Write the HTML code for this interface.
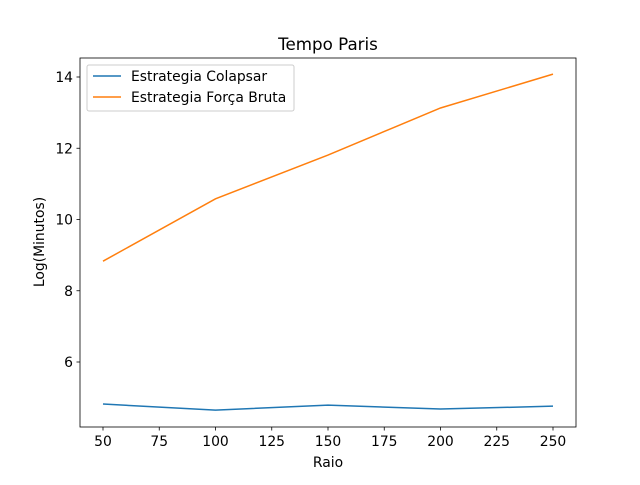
<!DOCTYPE html>
<html><head><meta charset="utf-8"><style>
body{margin:0;background:#fff}
svg text{font-family:"DejaVu Sans","Liberation Sans",sans-serif;font-size:13.9px;fill:#000}
</style></head><body>
<svg id="chart" width="640" height="480" xmlns="http://www.w3.org/2000/svg">
<rect width="640" height="480" fill="#fff"/>
<text x="328" y="50" text-anchor="middle" style="font-size:16.7px">Tempo Paris</text>
<g id="grid"></g>
<g id="lines"></g>
<rect x="80" y="58" width="496" height="369" fill="none" stroke="#000" stroke-width="0.8"/>
<text x="328" y="467" text-anchor="middle">Raio</text>
<text transform="translate(44,242) rotate(-90)" text-anchor="middle">Log(Minutos)</text>
<g>
<rect x="87" y="65" width="207" height="46" fill="#fff" fill-opacity="0.8" stroke="#ccc" rx="2"/>
<line x1="93" y1="76" x2="121" y2="76" stroke="#1f77b4" stroke-width="1.5"/>
<text x="131" y="81">Estrategia Colapsar</text>
<line x1="93" y1="97" x2="121" y2="97" stroke="#ff7f0e" stroke-width="1.5"/>
<text x="131" y="102">Estrategia Força Bruta</text>
</g>
</svg>
<script>
const categories=[50,100,150,200,250];
const colapsar=[4.82,4.65,4.79,4.68,4.76];
const forcaBruta=[8.83,10.58,11.81,13.13,14.08];
const xTicks=[50,75,100,125,150,175,200,225,250];
const yTicks=[6,8,10,12,14];
const xs=v=>103+(v-50)*2.25;
const ys=v=>77+(14-v)*35.625;
const NS="http://www.w3.org/2000/svg";
const g=document.getElementById('grid');
xTicks.forEach(t=>{
 const l=document.createElementNS(NS,'line');
 l.setAttribute('x1',xs(t));l.setAttribute('x2',xs(t));l.setAttribute('y1',427);l.setAttribute('y2',430.5);l.setAttribute('stroke','#000');l.setAttribute('stroke-width','0.8');
 
 
 g.appendChild(l);
 const tx=document.createElementNS(NS,'text');
 tx.setAttribute('x',xs(t));tx.setAttribute('y',446);tx.setAttribute('text-anchor','middle');tx.textContent=t;
 
 
 g.appendChild(tx);
});
yTicks.forEach(t=>{
 const l=document.createElementNS(NS,'line');
 l.setAttribute('x1',76.5);l.setAttribute('x2',80);l.setAttribute('y1',ys(t));l.setAttribute('y2',ys(t));l.setAttribute('stroke','#000');l.setAttribute('stroke-width','0.8');
 
 
 g.appendChild(l);
 const tx=document.createElementNS(NS,'text');
 tx.setAttribute('x',73);tx.setAttribute('y',ys(t)+5);tx.setAttribute('text-anchor','end');tx.textContent=t;
 
 
 g.appendChild(tx);
});
const lg=document.getElementById('lines');
[[colapsar,'#1f77b4','line-colapsar'],[forcaBruta,'#ff7f0e','line-forca-bruta']].forEach(([d,c,n])=>{
 const p=document.createElementNS(NS,'polyline');
 p.setAttribute('points',d.map((v,i)=>xs(categories[i])+','+ys(v)).join(' '));
 p.setAttribute('fill','none');p.setAttribute('stroke',c);p.setAttribute('stroke-width','1.5');
 
 
 lg.appendChild(p);
});
</script>
</body></html>
